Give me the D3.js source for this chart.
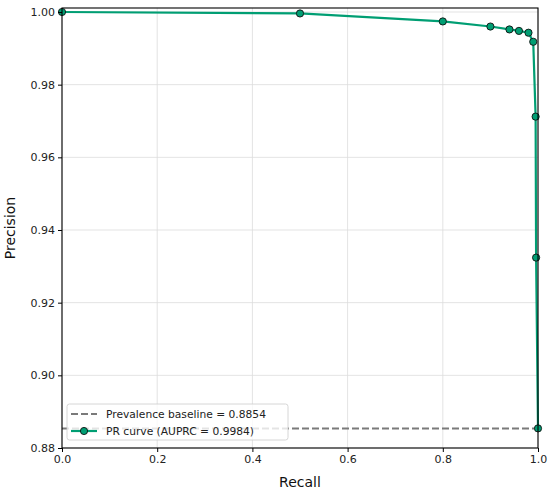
<!DOCTYPE html>
<html>
<head>
<meta charset="utf-8">
<script src="https://cdn.jsdelivr.net/npm/d3@7"></script>
<style>
  body { margin: 0; background: #fff; }
  text { font-family: "DejaVu Sans", sans-serif; }
</style>
</head>
<body>
<div id="chart"></div>
<script>
// PR curve points
const recall    = [0.0, 0.5, 0.8, 0.9, 0.94, 0.96, 0.98, 0.99, 0.995, 0.996, 1.0];
const precision = [1.0, 0.9996, 0.9974, 0.9960, 0.9952, 0.9948, 0.9943, 0.9918, 0.9712, 0.9324, 0.8854];
const baseline = 0.8854;
const auprc = 0.9984;
const xTicks = [0, 0.2, 0.4, 0.6, 0.8, 1.0];
const yTicks = [0.88, 0.90, 0.92, 0.94, 0.96, 0.98, 1.00];

const W = 550, H = 492;
const margin = {top: 8, right: 12, bottom: 44, left: 62},
    width = W - margin.left - margin.right,
    height = H - margin.top - margin.bottom;

const green = "#009e73";

var svg = d3.select("#chart")
    .append("svg")
    .attr("width", W)
    .attr("height", H)
    .append("g")
    .attr("transform", "translate(" + margin.left + "," + margin.top + ")");

var x = d3.scaleLinear().domain([0, 1]).range([0, width]);
var y = d3.scaleLinear().domain([0.88, 1.0011]).range([height, 0]);

// grid
svg.append("g").selectAll("line").data(xTicks).enter().append("line")
    .attr("x1", d => x(d)).attr("x2", d => x(d))
    .attr("y1", 0).attr("y2", height)
    .attr("stroke", "#dcdcdc").attr("stroke-width", 0.8);
svg.append("g").selectAll("line").data(yTicks).enter().append("line")
    .attr("x1", 0).attr("x2", width)
    .attr("y1", d => y(d)).attr("y2", d => y(d))
    .attr("stroke", "#dcdcdc").attr("stroke-width", 0.8);

// baseline
svg.append("line")
    .attr("x1", 0).attr("x2", width)
    .attr("y1", y(baseline)).attr("y2", y(baseline))
    .attr("stroke", "#7a7a7a").attr("stroke-width", 2)
    .attr("stroke-dasharray", "7,3");

// curve
const pts = recall.map((r, i) => [r, precision[i]]);
svg.append("path")
    .datum(pts)
    .attr("fill", "none")
    .attr("stroke", green)
    .attr("stroke-width", 2.2)
    .attr("d", d3.line().x(d => x(d[0])).y(d => y(d[1])));

svg.selectAll(".pt").data(pts).enter().append("circle")
    .attr("class", "pt")
    .attr("cx", d => x(d[0])).attr("cy", d => y(d[1]))
    .attr("r", 3.6)
    .attr("fill", green)
    .attr("stroke", "#111").attr("stroke-width", 0.9);

// frame
svg.append("rect")
    .attr("width", width).attr("height", height)
    .attr("fill", "none").attr("stroke", "#000").attr("stroke-width", 1.1);

// axes
var xAxis = svg.append("g")
    .attr("transform", "translate(0," + height + ")")
    .call(d3.axisBottom(x).tickValues(xTicks).tickFormat(d3.format(".1f")).tickSize(4).tickPadding(3));
var yAxis = svg.append("g")
    .call(d3.axisLeft(y).tickValues(yTicks).tickFormat(d3.format(".2f")).tickSize(4).tickPadding(3));
[xAxis, yAxis].forEach(a => {
    a.select(".domain").remove();
    a.selectAll("line").attr("stroke", "#000").attr("stroke-width", 1);
    a.selectAll("text").attr("font-size", 11).attr("fill", "#222")
        .style("font-family", "DejaVu Sans, sans-serif");
});

svg.append("text")
    .attr("x", width / 2).attr("y", height + 39)
    .attr("text-anchor", "middle")
    .attr("font-size", 14).attr("fill", "#111")
    .text("Recall");
svg.append("text")
    .attr("transform", "translate(" + (-47) + "," + (height / 2) + ")rotate(-90)")
    .attr("text-anchor", "middle")
    .attr("font-size", 14).attr("fill", "#111")
    .text("Precision");

// legend
var lg = svg.append("g").attr("transform", "translate(5," + (height - 44) + ")");
lg.append("rect")
    .attr("width", 221).attr("height", 36).attr("rx", 2.5)
    .attr("fill", "rgba(255,255,255,0.8)").attr("stroke", "#cccccc").attr("stroke-width", 0.8);
lg.append("line")
    .attr("x1", 4).attr("x2", 30).attr("y1", 10).attr("y2", 10)
    .attr("stroke", "#7a7a7a").attr("stroke-width", 2).attr("stroke-dasharray", "7,3");
lg.append("line")
    .attr("x1", 4).attr("x2", 30).attr("y1", 27).attr("y2", 27)
    .attr("stroke", green).attr("stroke-width", 2.2);
lg.append("circle")
    .attr("cx", 17).attr("cy", 27).attr("r", 3.6)
    .attr("fill", green).attr("stroke", "#111").attr("stroke-width", 0.9);
lg.append("text").attr("x", 39).attr("y", 14).attr("font-size", 10.7).attr("fill", "#222")
    .text("Prevalence baseline = " + baseline.toFixed(4));
lg.append("text").attr("x", 39).attr("y", 31).attr("font-size", 10.7).attr("fill", "#222")
    .text("PR curve (AUPRC = " + auprc.toFixed(4) + ")");
</script>
</body>
</html>
